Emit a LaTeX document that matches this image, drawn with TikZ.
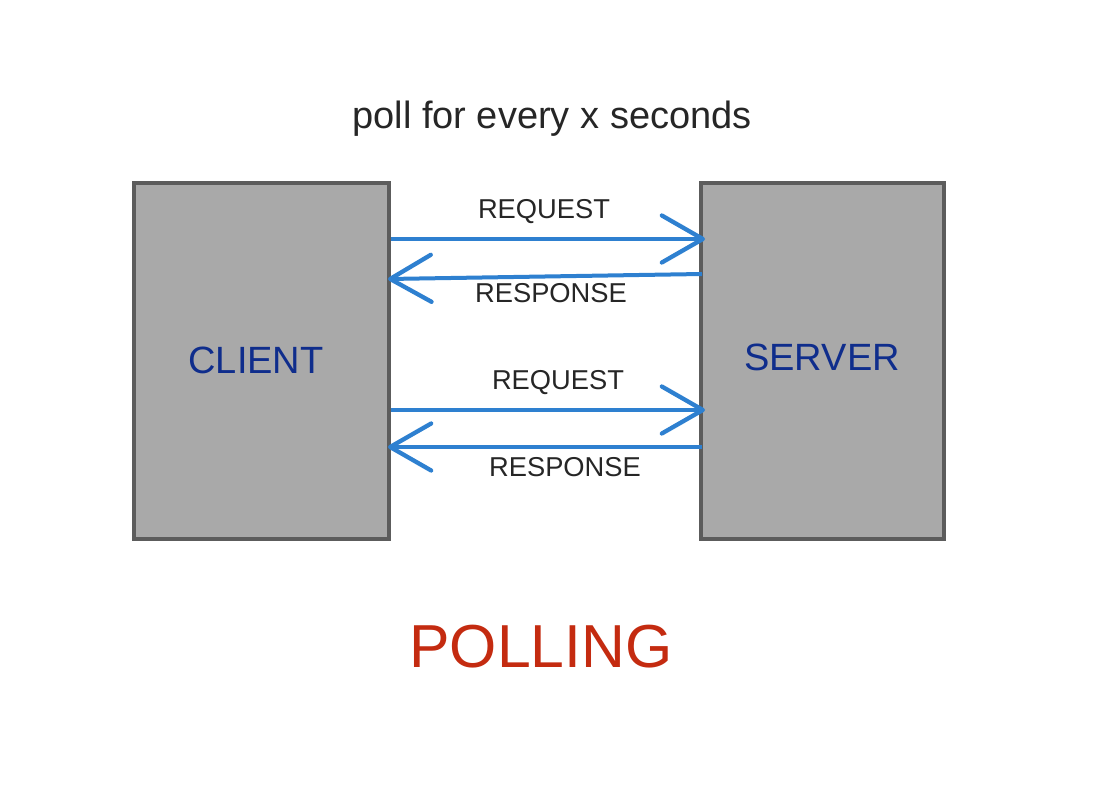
\documentclass[tikz,border=0pt]{standalone}
\usepackage{fontspec}
\setmainfont{Liberation Sans}
\usetikzlibrary{arrows.meta,calc}
\definecolor{boxfill}{HTML}{A9A9A9}
\definecolor{boxline}{HTML}{5C5C5C}
\definecolor{arrblue}{HTML}{2E80D0}
\definecolor{lblblue}{HTML}{0F2D8C}
\definecolor{pollred}{HTML}{C42B10}
\definecolor{txtgray}{HTML}{262626}
\tikzset{
  box/.style={draw=boxline, fill=boxfill, line width=4pt, inner sep=0pt},
  arr/.style={draw=arrblue, line width=4pt, -{Straight Barb[length=41pt,width=47pt,line width=4.3pt,round]}},
  msg/.style={text=txtgray, font=\fontsize{27.3}{32}\selectfont, inner sep=0pt},
  boxlbl/.style={text=lblblue, font=\fontsize{38}{44}\selectfont, inner sep=0pt},
}
\begin{document}
\begin{tikzpicture}[x=1pt,y=-1pt]
\useasboundingbox[fill=white] (0,0) rectangle (1100,802);
\node[box, minimum width=255pt, minimum height=356pt] (client) at (261.5,361) {};
\node[box, minimum width=243pt, minimum height=356pt] (server) at (822.5,361) {};
\node[boxlbl] (clientlbl) at (256,360) {CLIENT};
\node[boxlbl] (serverlbl) at (822,357) {SERVER};
\node[text=txtgray, font=\fontsize{38}{44}\selectfont, inner sep=0pt] (title) at (552,119) {poll for every x seconds};
\node[text=pollred, font=\fontsize{60.7}{70}\selectfont, inner sep=0pt] (polling) at (541,647) {POLLING};
\node[msg] (req1) at (544,211.5) {REQUEST};
\node[msg] (resp1) at (551,293) {RESPONSE};
\node[msg] (req2) at (558,383) {REQUEST};
\node[msg] (resp2) at (565,467) {RESPONSE};
\coordinate (a1s) at (client.east |- 0,239);
\coordinate (a1e) at ($(server.west |- 0,239)+(6,0)$);
\coordinate (b1s) at ($(server.west |- 0,274)+(3,0)$);
\coordinate (b1e) at ($(client.east |- 0,279)+(-3,0)$);
\coordinate (a2s) at (client.east |- 0,410);
\coordinate (a2e) at ($(server.west |- 0,410)+(6,0)$);
\coordinate (b2s) at ($(server.west |- 0,447)+(3,0)$);
\coordinate (b2e) at ($(client.east |- 0,447)+(-3,0)$);
\draw[arr] (a1s) -- (a1e);
\draw[arr] (b1s) -- (b1e);
\draw[arr] (a2s) -- (a2e);
\draw[arr] (b2s) -- (b2e);
\end{tikzpicture}
\end{document}
